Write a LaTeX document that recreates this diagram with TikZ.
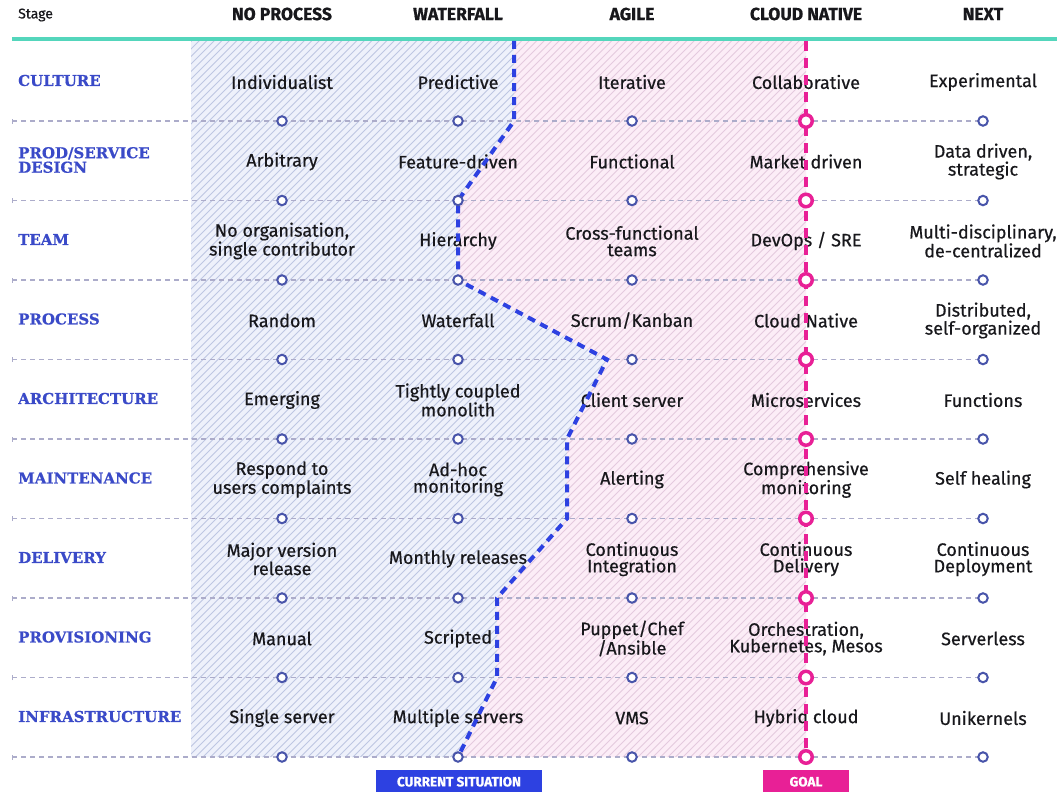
\documentclass[tikz,border=0pt]{standalone}
\usepackage{fontspec}
\setmainfont{Fira Sans}[UprightFeatures={FakeBold=0.5}, BoldFeatures={FakeBold=0.8}]
\newfontfamily\slabfont{DejaVu Serif}[BoldFeatures={FakeBold=0.6}]
\definecolor{topteal}{RGB}{84,214,188}
\definecolor{rowblue}{RGB}{58,74,200}
\definecolor{nowblue}{RGB}{45,65,225}
\definecolor{dotblue}{RGB}{72,84,170}
\definecolor{goalpink}{RGB}{232,32,150}
\definecolor{rowgray}{RGB}{172,172,202}
\definecolor{bluefill}{RGB}{238,241,251}
\definecolor{bluehatch}{RGB}{190,198,226}
\definecolor{pinkfill}{RGB}{252,237,247}
\definecolor{pinkhatch}{RGB}{228,202,222}
\definecolor{ink}{RGB}{24,24,28}

% one row of the maturity grid: index, label, five stage texts
\newcommand\stagerow[7]{%
  \pgfmathsetmacro\stagey{121+79.5*(#1-1)-39}%
  \node[rowlabel] (lab-#1) at (18,\stagey-1.5) {#2};
  \node[cell] (t-#1-1) at (282,\stagey) {#3};
  \node[cell] (t-#1-2) at (458,\stagey) {#4};
  \node[cell] (t-#1-3) at (632,\stagey) {#5};
  \node[cell] (t-#1-4) at (806,\stagey) {#6};
  \node[cell] (t-#1-5) at (983,\stagey) {#7};
}

\begin{document}
\begin{tikzpicture}[x=1pt,y=-1pt,
  cell/.style={font=\fontsize{18}{16.5}\selectfont, align=center, text=ink, inner sep=0pt},
  rowlabel/.style={font=\slabfont\bfseries\fontsize{15}{14.5}\selectfont, text=rowblue, anchor=west, align=left, inner sep=0pt},
  header/.style={font=\bfseries\fontsize{17.5}{18}\selectfont, text=ink, inner sep=0pt},
  stopdot/.style={circle, draw=dotblue, line width=2pt, fill=white, minimum size=9.5pt, inner sep=0pt},
  goaldot/.style={circle, draw=goalpink, line width=3.5pt, fill=white, minimum size=12.5pt, inner sep=0pt},
  rowline/.style={draw=rowgray, line width=1.1pt, dash pattern=on 5pt off 4pt},
  nowline/.style={draw=nowblue, line width=4pt, dash pattern=on 8pt off 6pt},
  goalline/.style={draw=goalpink, line width=4pt, dash pattern=on 10pt off 7pt},
  tagbox/.style={font=\bfseries\fontsize{13.5}{13.5}\selectfont, text=white, anchor=north, minimum height=23pt, inner sep=0pt},
]
\useasboundingbox[fill=white] (0,0) rectangle (1057,792);

% grid points: rows 1..9, stages 1..5
\foreach \r in {1,...,9}{
  \pgfmathsetmacro\gy{121+79.5*(\r-1)}
  \coordinate (s-\r) at (12,\gy);
  \foreach \k/\gx in {1/282,2/458,3/632,4/806,5/983}
    \coordinate (p-\r-\k) at (\gx,\gy);
}

% current-situation boundary
\coordinate (b0) at (514,41);
\coordinate (b1) at (514,121);
\coordinate (b4) at (607,359.5);
\coordinate (b5) at (567,439);
\coordinate (b6) at (567,518.5);
\coordinate (b7) at (497,598);
\coordinate (b8) at (497,677.5);
\coordinate (gtop) at (806,41);
\coordinate (bl0) at (191,41);
\coordinate (bl9) at (191,757);

% hatched area behind the current situation
\begin{scope}
  \clip (bl0) -- (b0) -- (b1) -- (p-2-2) -- (p-3-2) -- (b4) -- (b5) -- (b6) -- (b7) -- (b8) -- (p-9-2) -- (bl9) -- cycle;
  \fill[bluefill] (0,0) rectangle (1057,792);
  \foreach \h in {0,7.5,...,1900}
    \draw[bluehatch, line width=0.8pt] (\h-800,800) -- (\h,0);
\end{scope}
% hatched area between current situation and goal
\begin{scope}
  \clip (b0) -- (gtop) -- (p-9-4) -- (p-9-2) -- (b8) -- (b7) -- (b6) -- (b5) -- (b4) -- (p-3-2) -- (p-2-2) -- (b1) -- cycle;
  \fill[pinkfill] (0,0) rectangle (1057,792);
  \foreach \h in {0,7.5,...,1900}
    \draw[pinkhatch, line width=0.8pt] (\h-800,800) -- (\h,0);
\end{scope}

% header rule and stage titles
\draw[topteal, line width=4pt] (12,39) -- (1057,39);
\node[font=\fontsize{14}{14}\selectfont, text=ink, anchor=west, inner sep=0pt] (stage) at (18,15) {Stage};
\node[header] (h-1) at (282,14) {NO PROCESS};
\node[header] (h-2) at (458,14) {WATERFALL};
\node[header] (h-3) at (632,14) {AGILE};
\node[header] (h-4) at (806,14) {CLOUD NATIVE};
\node[header] (h-5) at (983,14) {NEXT};

% dashed row guides
\foreach \r in {1,...,9}{
  \draw[rowline] (s-\r) -- (p-\r-5);
  \draw[rowgray, line width=1pt] ([yshift=-2.5pt]s-\r) -- ([yshift=2.5pt]s-\r);
}

% row texts
\stagerow{1}{CULTURE}{Individualist}{Predictive}{Iterative}{Collaborative}{Experimental}
\stagerow{2}{PROD/SERVICE\\DESIGN}{Arbitrary}{Feature-driven}{Functional}{Market driven}{Data driven,\\strategic}
\stagerow{3}{TEAM}{No organisation,\\single contributor}{Hierarchy}{Cross-functional\\teams}{DevOps / SRE}{Multi-disciplinary,\\de-centralized}
\stagerow{4}{PROCESS}{Random}{Waterfall}{Scrum/Kanban}{Cloud Native}{Distributed,\\self-organized}
\stagerow{5}{ARCHITECTURE}{Emerging}{Tightly coupled\\monolith}{Client server}{Microservices}{Functions}
\stagerow{6}{MAINTENANCE}{Respond to\\users complaints}{Ad-hoc\\monitoring}{Alerting}{Comprehensive\\monitoring}{Self healing}
\stagerow{7}{DELIVERY}{Major version\\release}{Monthly releases}{Continuous\\Integration}{Continuous\\Delivery}{Continuous\\Deployment}
\stagerow{8}{PROVISIONING}{Manual}{Scripted}{Puppet/Chef\\/Ansible}{Orchestration,\\Kubernetes, Mesos}{Serverless}
\stagerow{9}{INFRASTRUCTURE}{Single server}{Multiple servers}{VMS}{Hybrid cloud}{Unikernels}

% current situation and goal lines
\draw[nowline] (b0) -- (b1) -- (p-2-2) -- (p-3-2) -- (b4) -- (b5) -- (b6) -- (b7) -- (b8) -- (p-9-2);
\draw[goalline] (gtop) -- (p-9-4);

% stops on each row
\foreach \r in {1,...,9}{
  \foreach \k in {1,2,3,5}
    \node[stopdot] (c-\r-\k) at (p-\r-\k) {};
  \node[goaldot] (c-\r-4) at (p-\r-4) {};
}

% legend tags
\node[tagbox, fill=nowblue, minimum width=166pt] (now) at (459,770) {CURRENT SITUATION};
\node[tagbox, fill=goalpink, minimum width=86pt] (goal) at (806,770) {GOAL};
\end{tikzpicture}
\end{document}
